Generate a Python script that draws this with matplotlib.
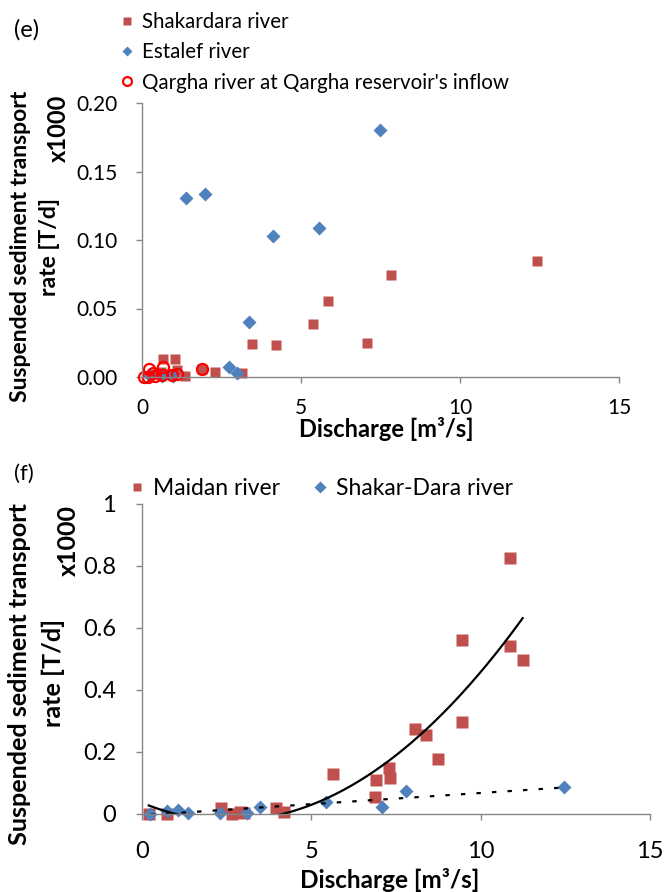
import numpy as np
import matplotlib
matplotlib.use("Agg")
import matplotlib.pyplot as plt

plt.rcParams['font.family'] = ['Lato', 'DejaVu Sans']

# ---------------- data (e) ----------------
shak_x = [12.42, 7.83, 5.85, 5.38, 7.08, 3.46, 4.21, 0.66, 1.04, 1.35, 2.30, 3.14, 1.10, 1.90, 0.60, 0.30, 0.90]
shak_y = [0.085, 0.0745, 0.0555, 0.0387, 0.0248, 0.024, 0.0234, 0.013, 0.013, 0.001, 0.004, 0.003, 0.005, 0.006, 0.004, 0.002, 0.002]

estalef_x = [7.48, 1.98, 1.38, 5.57, 4.12, 3.36, 2.74, 2.98, 0.25, 0.63, 0.97]
estalef_y = [0.180, 0.1336, 0.1307, 0.109, 0.103, 0.040, 0.0075, 0.003, 0.001, 0.001, 0.001]

qargha_x = [0.23, 0.20, 0.66, 0.63, 0.94, 1.10, 1.90, 0.05, 0.40, 0.35]
qargha_y = [0.0058, 0.0, 0.007, 0.0015, 0.0015, 0.002, 0.006, 0.0, 0.0005, 0.003]

# ---------------- data (f) ----------------
maidan_x = [0.20, 0.73, 2.33, 2.65, 2.90, 3.00, 3.95, 4.20, 5.63, 6.87, 6.90, 7.29, 7.32,
            8.05, 8.38, 8.73, 9.44, 9.44, 10.88, 10.88, 11.24]
maidan_y = [0.0, 0.0, 0.018, 0.0, 0.006, 0.004, 0.020, 0.007, 0.129, 0.055, 0.110, 0.148, 0.116,
            0.274, 0.255, 0.177, 0.561, 0.297, 0.826, 0.542, 0.497]

shakdara_x = [0.25, 0.73, 1.06, 1.36, 2.30, 3.10, 3.48, 5.43, 7.10, 7.79, 12.45]
shakdara_y = [0.0, 0.010, 0.013, 0.002, 0.003, 0.003, 0.024, 0.039, 0.023, 0.074, 0.087]

# trendline coefficients (y = a x^2 + b x + c)
maidan_trend = [0.0087, -0.0448, 0.0361]

xticks = [0, 5, 10, 15]
yticks_e = [0.00, 0.05, 0.10, 0.15, 0.20]
yticks_f = [0, 0.2, 0.4, 0.6, 0.8, 1]
yticklabels_e = ["0.00", "0.05", "0.10", "0.15", "0.20"]
yticklabels_f = ["0", "0.2", "0.4", "0.6", "0.8", "1"]

RED = "#C0504D"
BLUE = "#4F81BD"
GRID = "#868686"

W, H = 665, 892
fig = plt.figure(figsize=(W / 100, H / 100), dpi=100)
PX = 72 / 100  # points per pixel


def fx(px):
    return px / W


def fy(py):
    return 1 - py / H


def style_axes(ax, fs, xbase_px, ylab_gap_px):
    for s in ["top", "right"]:
        ax.spines[s].set_visible(False)
    for s in ["left", "bottom"]:
        ax.spines[s].set_color(GRID)
        ax.spines[s].set_linewidth(1.0)
    tl = 6
    ax.tick_params(axis="both", direction="out", length=tl * PX, width=1.0, color=GRID,
                   labelsize=fs, labelcolor="black")
    ax.tick_params(axis="y", pad=(ylab_gap_px - tl) * PX)
    ax.tick_params(axis="x", pad=(xbase_px - tl) * PX)
    for lbl in ax.get_xticklabels():
        lbl.set_va("baseline")


# ---------------- panel (e) ----------------
ax1 = fig.add_axes([fx(142), fy(377), fx(619) - fx(142), fy(103) - fy(377)])
h1, = ax1.plot(shak_x, shak_y, "s", color=RED, ms=7.5, mec="none", label="Shakardara river", clip_on=False)
h2, = ax1.plot(estalef_x, estalef_y, "D", color=BLUE, ms=7, mec="none", label="Estalef river", clip_on=False)
h3, = ax1.plot(qargha_x, qargha_y, "o", mfc="none", mec="#FF0000", mew=1.6, ms=8,
               label="Qargha river at Qargha reservoir's inflow", clip_on=False)
ax1.set_xlim(0, 15)
ax1.set_ylim(0, 0.2)
ax1.set_xticks(xticks)
ax1.set_xticklabels([str(t) for t in xticks])
ax1.set_yticks(yticks_e)
ax1.set_yticklabels(yticklabels_e)
style_axes(ax1, 15, 414 - 377, 142 - 118)
fig.text(fx(386), fy(437), "Discharge [m\u00b3/s]", fontsize=17, fontweight="bold",
         ha="center", va="baseline")

leg1 = fig.legend(handles=[h1, h2, h3], loc="upper left", bbox_to_anchor=(fx(121), fy(12)),
                  frameon=False, fontsize=14.8, handlelength=0.6, handletextpad=0.4,
                  labelspacing=0.5, borderaxespad=0, borderpad=0, markerscale=0.8)
fig.text(fx(27), fy(30), "(e)", fontsize=17, ha="center", va="center")

fig.text(fx(21), fy(246), "Suspended sediment transport", rotation=90, fontsize=16.5,
         fontweight="bold", ha="center", va="center")
fig.text(fx(50), fy(247), "rate [T/d]", rotation=90, fontsize=16.5,
         fontweight="bold", ha="center", va="center")
fig.text(fx(58), fy(128), "x1000", rotation=90, fontsize=17,
         fontweight="bold", ha="center", va="center")

# ---------------- panel (f) ----------------
ax2 = fig.add_axes([fx(142), fy(814), fx(650) - fx(142), fy(504) - fy(814)])
g1, = ax2.plot(maidan_x, maidan_y, "s", color=RED, ms=8, mec="none", label="Maidan river", clip_on=False)
g2, = ax2.plot(shakdara_x, shakdara_y, "D", color=BLUE, ms=7.5, mec="none", label="Shakar-Dara river", clip_on=False)

# trendlines
xm = np.linspace(min(maidan_x), max(maidan_x), 300)
ax2.plot(xm, np.polyval(maidan_trend, xm), color="black", lw=1.6)
ps = np.polyfit(shakdara_x, shakdara_y, 1)
xs = np.linspace(min(shakdara_x), max(shakdara_x), 200)
ax2.plot(xs, np.polyval(ps, xs), color="black", lw=1.6, linestyle=(0, (2, 5)))

ax2.set_xlim(0, 15)
ax2.set_ylim(0, 1)
ax2.set_xticks(xticks)
ax2.set_xticklabels([str(t) for t in xticks])
ax2.set_yticks(yticks_f)
ax2.set_yticklabels(yticklabels_f)
style_axes(ax2, 17, 858 - 814, 143 - 117)
fig.text(fx(390), fy(888), "Discharge [m\u00b3/s]", fontsize=17.5, fontweight="bold",
         ha="center", va="baseline")

leg2 = fig.legend(handles=[g1, g2], loc="upper left", bbox_to_anchor=(fx(130), fy(478)),
                  frameon=False, fontsize=16.5, handlelength=0.6, handletextpad=0.4,
                  columnspacing=1.45, ncol=2, borderaxespad=0, borderpad=0, markerscale=0.75)
fig.text(fx(24), fy(474), "(f)", fontsize=16, ha="center", va="center")

fig.text(fx(20), fy(674), "Suspended sediment transport", rotation=90, fontsize=18.2,
         fontweight="bold", ha="center", va="center")
fig.text(fx(53), fy(673), "rate [T/d]", rotation=90, fontsize=18.2,
         fontweight="bold", ha="center", va="center")
fig.text(fx(68), fy(540), "x1000", rotation=90, fontsize=18,
         fontweight="bold", ha="center", va="center")

fig.savefig("out.png", dpi=100)
